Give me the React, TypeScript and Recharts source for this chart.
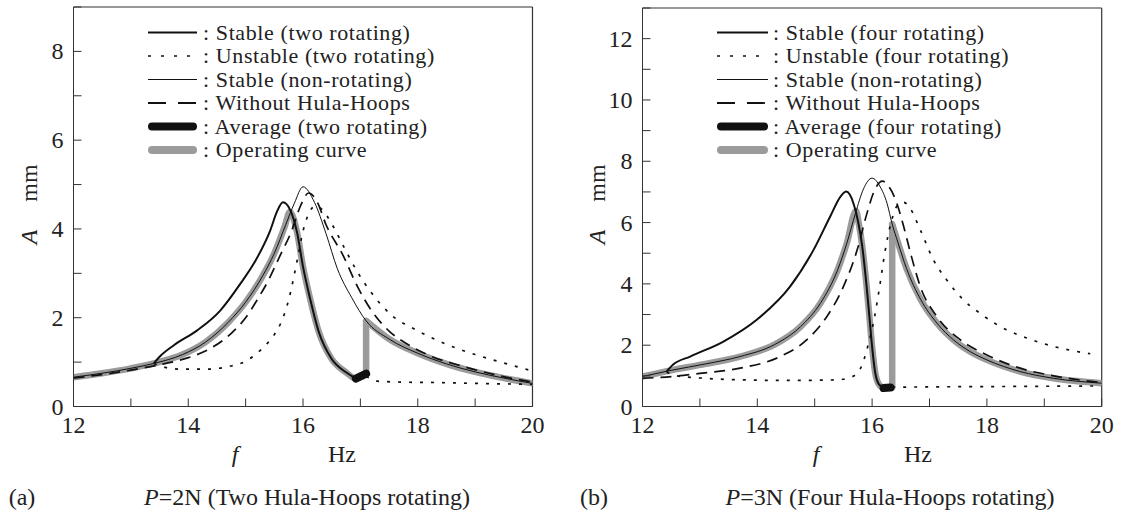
import { LineChart, Line, XAxis, YAxis, ReferenceLine } from "recharts";

type Pt = [number, number];

// ---- shared axis values ----
const xTicks = [12, 13, 14, 15, 16, 17, 18, 19, 20];
const aYTicks = [0, 1, 2, 3, 4, 5, 6, 7, 8, 9];
const bYTicks = [0, 1, 2, 3, 4, 5, 6, 7, 8, 9, 10, 11, 12, 13];

// ---- panel (a): P=2N, two rotating ----
const aNonRot: Pt[] = [
  [12.0, 0.66], [12.5, 0.75], [13.0, 0.86], [13.4, 0.97], [13.9, 1.17], [14.3, 1.45],
  [14.7, 1.9], [15.0, 2.35], [15.3, 2.95], [15.5, 3.45], [15.7, 4.1], [15.85, 4.58],
  [16.0, 4.95], [16.2, 4.6], [16.4, 3.9], [16.6, 3.1], [16.85, 2.45], [17.1, 1.93],
  [17.5, 1.52], [18.0, 1.2], [18.5, 0.96], [19.0, 0.78], [19.5, 0.64], [20.0, 0.52],
];
const aWithout: Pt[] = [
  [12.0, 0.64], [12.5, 0.72], [13.0, 0.82], [13.5, 0.94], [14.0, 1.1], [14.3, 1.25],
  [14.75, 1.65], [15.0, 2.0], [15.2, 2.4], [15.4, 2.85], [15.6, 3.4], [15.8, 3.95],
  [15.95, 4.5], [16.1, 4.81], [16.25, 4.6], [16.4, 4.1], [16.7, 3.4], [16.95, 2.7],
  [17.2, 2.15], [17.5, 1.7], [17.8, 1.42], [18.2, 1.15], [18.8, 0.9], [19.4, 0.7], [20.0, 0.55],
];
const aStable: Pt[] = [
  [13.4, 0.97], [13.5, 1.12], [13.75, 1.38], [14.15, 1.71], [14.55, 2.15], [14.9, 2.75],
  [15.2, 3.35], [15.43, 3.97], [15.55, 4.4], [15.65, 4.6], [15.78, 4.42], [15.9, 3.9],
  [16.0, 3.15], [16.12, 2.45], [16.27, 1.7], [16.5, 1.07], [16.75, 0.77], [16.92, 0.63],
];
const aUnstable: Pt[] = [
  [13.4, 0.97], [13.6, 0.88], [13.9, 0.84], [14.3, 0.84], [14.7, 0.9], [15.0, 1.02],
  [15.2, 1.2], [15.37, 1.41], [15.5, 1.62], [15.62, 1.9], [15.75, 2.4], [15.9, 3.3],
  [16.0, 3.95], [16.12, 4.4], [16.22, 4.52], [16.32, 4.45], [16.53, 4.05], [16.71, 3.6],
  [16.94, 3.05], [17.2, 2.55], [17.55, 2.05], [17.95, 1.74], [18.5, 1.4], [19.0, 1.17],
  [19.5, 0.98], [20.0, 0.8],
];
const aUnstableLow: Pt[] = [
  [17.1, 0.68], [17.3, 0.57], [17.7, 0.55], [18.3, 0.54], [19.0, 0.52], [20.0, 0.5],
];
const aAverage: Pt[] = [[16.92, 0.63], [17.1, 0.74]];
const aOperLeft: Pt[] = [
  [12.0, 0.66], [12.5, 0.75], [13.0, 0.86], [13.4, 0.97], [13.9, 1.17], [14.3, 1.45],
  [14.7, 1.9], [15.0, 2.35], [15.3, 2.95], [15.5, 3.45], [15.68, 4.05], [15.77, 4.38],
  [15.9, 3.9], [16.0, 3.15], [16.12, 2.45], [16.27, 1.7], [16.5, 1.07], [16.75, 0.77],
  [16.92, 0.63], [17.1, 0.72],
];
const aOperJump: Pt[] = [[17.1, 0.72], [17.1, 1.93]];
const aOperRight: Pt[] = aNonRot.filter((p) => p[0] >= 17.1);

// ---- panel (b): P=3N, four rotating ----
const bNonRot: Pt[] = [
  [12.0, 0.98], [12.5, 1.18], [13.1, 1.39], [13.7, 1.63], [14.3, 2.02], [14.75, 2.6],
  [15.1, 3.37], [15.4, 4.46], [15.56, 5.33], [15.71, 6.3], [15.85, 7.1], [16.0, 7.45],
  [16.14, 7.17], [16.26, 6.63], [16.35, 5.95], [16.45, 5.35], [16.6, 4.5], [16.85, 3.48],
  [17.13, 2.72], [17.42, 2.17], [17.71, 1.79], [18.0, 1.52], [18.58, 1.14], [19.16, 0.92],
  [20.0, 0.76],
];
const bWithout: Pt[] = [
  [12.0, 0.92], [12.53, 0.98], [13.0, 1.08], [13.7, 1.25], [14.4, 1.63], [14.86, 2.17],
  [15.21, 2.93], [15.5, 3.91], [15.74, 5.11], [15.91, 6.3], [16.03, 7.0], [16.18, 7.35],
  [16.3, 7.15], [16.41, 6.74], [16.55, 5.87], [16.67, 5.0], [16.84, 3.91], [17.13, 2.93],
  [17.54, 2.17], [18.0, 1.68], [18.58, 1.25], [19.16, 1.0], [20.0, 0.78],
];
const bStable: Pt[] = [
  [12.42, 1.14], [12.53, 1.36], [12.83, 1.63], [13.41, 2.12], [13.99, 2.83], [14.57, 3.91],
  [14.98, 5.11], [15.27, 6.2], [15.45, 6.85], [15.55, 7.01], [15.68, 6.6], [15.76, 6.0],
  [15.83, 5.2], [15.9, 4.0], [15.95, 3.0], [16.0, 1.95], [16.05, 1.15], [16.12, 0.72],
  [16.2, 0.62], [16.26, 0.6],
];
const bUnstable: Pt[] = [
  [12.42, 1.12], [12.6, 1.0], [13.0, 0.93], [13.7, 0.87], [14.6, 0.85], [15.4, 0.87],
  [15.65, 0.97], [15.8, 1.25], [15.93, 2.0], [16.05, 3.0], [16.13, 3.9], [16.22, 5.0],
  [16.33, 6.0], [16.46, 6.6], [16.55, 6.66], [16.65, 6.5], [16.84, 5.76], [17.07, 4.78],
  [17.3, 4.13], [17.59, 3.48], [17.88, 3.04], [18.23, 2.61], [18.7, 2.23], [19.16, 1.96],
  [19.8, 1.72],
];
const bUnstableLow: Pt[] = [[16.35, 0.63], [17.0, 0.64], [18.0, 0.65], [19.0, 0.66], [20.0, 0.67]];
const bAverage: Pt[] = [[16.2, 0.6], [16.32, 0.62]];
const bOperLeft: Pt[] = [
  [12.0, 0.98], [12.5, 1.18], [13.1, 1.39], [13.7, 1.63], [14.3, 2.02], [14.75, 2.6],
  [15.1, 3.37], [15.4, 4.46], [15.56, 5.33], [15.72, 6.38], [15.77, 5.95], [15.83, 5.2],
  [15.9, 4.0], [15.95, 3.0], [16.0, 1.95], [16.05, 1.15], [16.12, 0.72], [16.2, 0.62],
  [16.35, 0.62],
];
const bOperJump: Pt[] = [[16.35, 0.62], [16.35, 5.95]];
const bOperRight: Pt[] = bNonRot.filter((p) => p[0] >= 16.35);

// ---- texts ----
const aLegend = [
  ": Stable (two rotating)",
  ": Unstable (two rotating)",
  ": Stable (non-rotating)",
  ": Without Hula-Hoops",
  ": Average (two rotating)",
  ": Operating curve",
];
const bLegend = [
  ": Stable (four rotating)",
  ": Unstable (four rotating)",
  ": Stable (non-rotating)",
  ": Without Hula-Hoops",
  ": Average (four rotating)",
  ": Operating curve",
];

const FONT = "Liberation Serif, Times New Roman, serif";
const INK = "#111";
const GRAY = "#9b9b9b";
const TXT = "#222";

const toRows = (pts: Pt[]) => pts.map(([f, A]) => ({ f, A }));
const evenOnly = (v: number) => (v % 2 === 0 ? String(v) : "");

type Curve = {
  key: string;
  pts: Pt[];
  stroke: string;
  width: number;
  dash?: string;
  linear?: boolean;
  cap?: "round" | "butt";
};

const curvesFor = (p: {
  operLeft: Pt[]; operJump: Pt[]; operRight: Pt[]; without: Pt[]; unstable: Pt[];
  unstableLow: Pt[]; nonRot: Pt[]; stable: Pt[]; average: Pt[];
}): Curve[] => [
  { key: "opL", pts: p.operLeft, stroke: GRAY, width: 6.5, cap: "round" },
  { key: "opJ", pts: p.operJump, stroke: GRAY, width: 6.5, linear: true, cap: "butt" },
  { key: "opR", pts: p.operRight, stroke: GRAY, width: 6.5, cap: "round" },
  { key: "wo", pts: p.without, stroke: INK, width: 1.7, dash: "11 7" },
  { key: "un", pts: p.unstable, stroke: INK, width: 1.7, dash: "3 8" },
  { key: "unL", pts: p.unstableLow, stroke: INK, width: 1.7, dash: "3 8" },
  { key: "nr", pts: p.nonRot, stroke: INK, width: 1 },
  { key: "st", pts: p.stable, stroke: INK, width: 2 },
  { key: "av", pts: p.average, stroke: INK, width: 8, linear: true, cap: "round" },
];

const aCurves = curvesFor({
  operLeft: aOperLeft, operJump: aOperJump, operRight: aOperRight, without: aWithout,
  unstable: aUnstable, unstableLow: aUnstableLow, nonRot: aNonRot, stable: aStable, average: aAverage,
});
const bCurves = curvesFor({
  operLeft: bOperLeft, operJump: bOperJump, operRight: bOperRight, without: bWithout,
  unstable: bUnstable, unstableLow: bUnstableLow, nonRot: bNonRot, stable: bStable, average: bAverage,
});

// custom ticks so the serif face is used
const XTick = (props: any) => {
  const { x, y, payload } = props;
  const t = evenOnly(payload.value);
  if (!t) return <g />;
  return (
    <text x={x} y={y + 17} textAnchor="middle" fontSize={24} fill={TXT} fontFamily={FONT}>
      {t}
    </text>
  );
};
const YTick = (props: any) => {
  const { x, y, payload } = props;
  const t = evenOnly(payload.value);
  if (!t) return <g />;
  return (
    <text x={x} y={y + 8} textAnchor="end" fontSize={24} fill={TXT} fontFamily={FONT}>
      {t}
    </text>
  );
};

function Panel({ left, width, yMax, yTicks, margin, curves }: {
  left: number; width: number; yMax: number; yTicks: number[];
  margin: { top: number; right: number; bottom: number; left: number };
  curves: Curve[];
}) {
  return (
    <div style={{ position: "absolute", left, top: 0 }}>
      <LineChart width={width} height={524} margin={margin}>
        <XAxis
          dataKey="f"
          type="number"
          domain={[12, 20]}
          ticks={xTicks}
          interval={0}
          tickSize={-8}
          tickMargin={17.5}
          height={30}
          stroke="#333"
          tick={XTick}
          allowDataOverflow
        />
        <YAxis
          type="number"
          domain={[0, yMax]}
          ticks={yTicks}
          interval={0}
          tickSize={-8}
          tickMargin={18}
          width={60}
          stroke="#333"
          tick={YTick}
          allowDataOverflow
        />
        <ReferenceLine y={yMax} stroke="#333" strokeWidth={1.2} />
        <ReferenceLine x={20} stroke="#333" strokeWidth={1.2} />
        {curves.map((c) => (
          <Line
            key={c.key}
            data={toRows(c.pts)}
            dataKey="A"
            type={c.linear ? "linear" : "monotone"}
            stroke={c.stroke}
            strokeWidth={c.width}
            strokeDasharray={c.dash}
            strokeLinecap={c.cap ?? "butt"}
            dot={false}
            activeDot={false}
            isAnimationActive={false}
          />
        ))}
      </LineChart>
    </div>
  );
}

function LegendBlock({ x0, x1, tx, labels }: { x0: number; x1: number; tx: number; labels: string[] }) {
  const rows = [32.5, 56, 79.5, 103, 126.5, 150];
  const styles = [
    { stroke: INK, w: 2 },
    { stroke: INK, w: 1.7, dash: "3 10" },
    { stroke: INK, w: 1 },
    { stroke: INK, w: 1.8, dash: "18 12" },
    { stroke: INK, w: 8, cap: "round" },
    { stroke: GRAY, w: 8, cap: "round" },
  ];
  return (
    <g>
      {labels.map((lab, i) => {
        const s = styles[i];
        const inset = s.cap === "round" ? 4 : 0;
        return (
          <g key={lab}>
            <line
              x1={x0 + inset}
              x2={x1 - inset}
              y1={rows[i]}
              y2={rows[i]}
              stroke={s.stroke}
              strokeWidth={s.w}
              strokeDasharray={s.dash}
              strokeLinecap={(s.cap as "round") ?? "butt"}
            />
            <text x={tx} y={rows[i] + 7} fontSize={22} letterSpacing={0.6} fill={TXT} fontFamily={FONT}>
              {lab}
            </text>
          </g>
        );
      })}
    </g>
  );
}

function Labels() {
  const yLab = (bx: number) => (
    <g>
      <text transform={`translate(${bx},237) rotate(-90)`} textAnchor="middle" fontSize={24} fontStyle="italic" fill={TXT} fontFamily={FONT}>A</text>
      <text transform={`translate(${bx},183) rotate(-90)`} textAnchor="middle" fontSize={24} fill={TXT} fontFamily={FONT}>mm</text>
    </g>
  );
  const common = { fontSize: 24, fill: TXT, fontFamily: FONT };
  return (
    <svg width={1122} height={524} style={{ position: "absolute", left: 0, top: 0, pointerEvents: "none" }}>
      {yLab(37)}
      {yLab(605)}
      <text x={235} y={462} textAnchor="middle" fontStyle="italic" {...common}>f</text>
      <text x={342} y={462} textAnchor="middle" {...common}>Hz</text>
      <text x={816} y={462} textAnchor="middle" fontStyle="italic" {...common}>f</text>
      <text x={918} y={462} textAnchor="middle" {...common}>Hz</text>
      <text x={22} y={505} textAnchor="middle" {...common}>(a)</text>
      <text x={307} y={505} textAnchor="middle" {...common}>
        <tspan fontStyle="italic">P</tspan>=2N (Two Hula-Hoops rotating)
      </text>
      <text x={594} y={505} textAnchor="middle" {...common}>(b)</text>
      <text x={890} y={505} textAnchor="middle" {...common}>
        <tspan fontStyle="italic">P</tspan>=3N (Four Hula-Hoops rotating)
      </text>
      <LegendBlock x0={148} x1={197} tx={203} labels={aLegend} />
      <LegendBlock x0={717} x1={768} tx={773} labels={bLegend} />
    </svg>
  );
}

export default function App() {
  return (
    <div style={{ position: "absolute", left: 0, top: 0, width: 1122, height: 524, background: "#fff", fontFamily: FONT }}>
      <Panel
        left={0}
        width={560}
        yMax={9}
        yTicks={aYTicks}
        margin={{ top: 7, right: 27.5, left: 13.5, bottom: 87.5 }}
        curves={aCurves}
      />
      <Panel
        left={560}
        width={562}
        yMax={13}
        yTicks={bYTicks}
        margin={{ top: 8, right: 20.3, left: 22.5, bottom: 87.5 }}
        curves={bCurves}
      />
      <Labels />
    </div>
  );
}
